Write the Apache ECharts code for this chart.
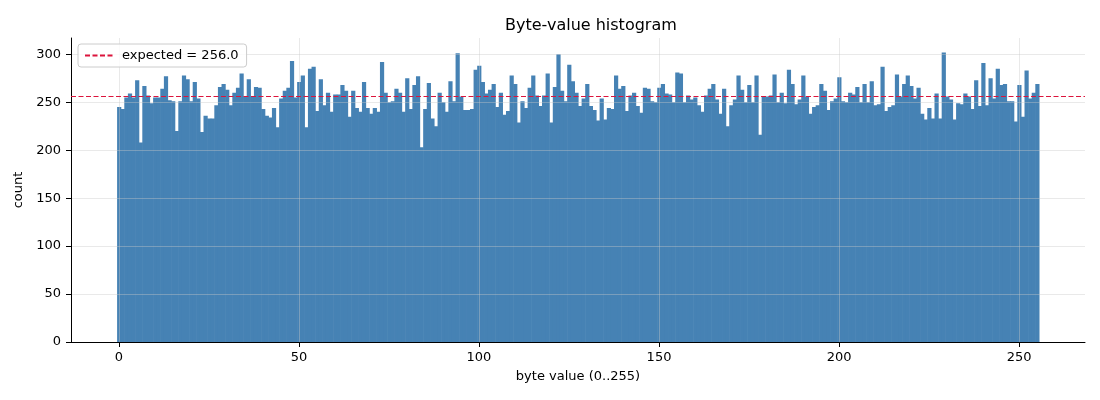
<!DOCTYPE html>
<html>
<head>
<meta charset="utf-8">
<script src="https://cdn.jsdelivr.net/npm/echarts@6/dist/echarts.min.js"></script>
<style>
  html, body { margin: 0; padding: 0; background: #fff; }
  #chart { width: 1100px; height: 400px; }
</style>
</head>
<body>
<div id="chart"></div>
<script>
/* byte-value histogram: counts per byte 0..255 */
var COUNTS = [
  245, 243, 255, 259, 255, 273, 208, 267, 257, 249, 255, 255, 264, 277, 252, 251,
  220, 251, 278, 274, 251, 271, 254, 219, 236, 233, 233, 247, 266, 269, 263, 247,
  260, 265, 280, 256, 274, 256, 266, 265, 243, 236, 234, 244, 224, 254, 262, 265,
  293, 255, 271, 278, 224, 285, 287, 241, 274, 247, 260, 240, 258, 258, 268, 262,
  235, 262, 244, 240, 271, 244, 238, 244, 240, 292, 260, 250, 251, 264, 260, 240,
  275, 243, 268, 277, 203, 243, 270, 233, 225, 260, 250, 240, 272, 251, 301, 256,
  242, 242, 243, 284, 288, 271, 259, 263, 269, 245, 260, 237, 241, 278, 269, 229,
  251, 244, 265, 278, 257, 246, 257, 280, 229, 266, 300, 262, 251, 289, 272, 260,
  246, 254, 269, 246, 242, 231, 254, 232, 244, 243, 278, 264, 267, 241, 257, 260,
  246, 239, 265, 264, 251, 250, 265, 269, 259, 258, 250, 281, 280, 250, 257, 253,
  255, 247, 240, 257, 264, 269, 253, 238, 264, 225, 247, 253, 278, 263, 250, 268,
  250, 278, 216, 256, 256, 257, 279, 250, 260, 249, 284, 269, 248, 253, 278, 256,
  238, 245, 247, 269, 262, 242, 251, 254, 276, 251, 250, 260, 258, 266, 250, 269,
  250, 272, 247, 248, 287, 241, 245, 247, 279, 256, 269, 278, 267, 254, 265, 238,
  232, 244, 233, 259, 233, 302, 256, 253, 232, 249, 248, 259, 256, 243, 273, 246,
  291, 247, 275, 254, 285, 268, 269, 251, 251, 230, 268, 235, 283, 254, 260, 269
];
var EXPECTED = 256.0;
var X_TICKS = [0, 50, 100, 150, 200, 250];
var Y_TICKS = [0, 50, 100, 150, 200, 250, 300];

var FONT = 'DejaVu Sans';
var BAR_COLOR = '#4682b4';
var LINE_COLOR = '#dc143c';
var GRID_COLOR = 'rgba(200,200,200,0.4)';

var binData = [];
for (var i = 0; i < COUNTS.length; i++) {
  binData.push([i, COUNTS[i]]);
}

// one rect per bin, from b-0.5 to b+0.5 (slight overlap so no seams show)
function renderBin(params, api) {
  var b = api.value(0), c = api.value(1);
  var p0 = api.coord([b - 0.5, c]);
  var p1 = api.coord([b + 0.5, 0]);
  return {
    type: 'rect',
    shape: { x: p0[0], y: p0[1], width: p1[0] - p0[0] + 0.6, height: p1[1] - p0[1] },
    style: { fill: BAR_COLOR }
  };
}

var chart = echarts.init(document.getElementById('chart'));
chart.setOption({
  animation: false,
  backgroundColor: '#fff',
  textStyle: { fontFamily: FONT },
  title: {
    text: 'Byte-value histogram',
    left: 500,
    top: 13,
    textStyle: { fontFamily: FONT, fontSize: 16, fontWeight: 'normal', color: '#000' }
  },
  legend: {
    left: 78,
    top: 44,
    padding: [5, 8, 5, 6],
    itemWidth: 29,
    itemHeight: 13,
    backgroundColor: 'rgba(255,255,255,0.8)',
    borderColor: '#cccccc',
    borderWidth: 1,
    borderRadius: 3,
    itemStyle: { opacity: 0 },
    textStyle: { fontFamily: FONT, fontSize: 13, color: '#000', padding: [0, 0, 0, 3] },
    data: ['expected = ' + EXPECTED.toFixed(1)]
  },
  grid: { left: 71, right: 15, top: 38, bottom: 58 },
  xAxis: {
    type: 'value',
    min: -13.3,
    max: 268.3,
    z: 3,
    name: 'byte value (0..255)',
    nameLocation: 'middle',
    nameGap: 28,
    nameTextStyle: { fontFamily: FONT, fontSize: 13, color: '#000' },
    axisLine: { show: true, onZero: false, lineStyle: { color: '#000', width: 1 } },
    axisTick: { show: true, length: 5, lineStyle: { color: '#000' }, customValues: X_TICKS },
    axisLabel: { margin: 9, fontFamily: FONT, fontSize: 13, color: '#000', customValues: X_TICKS },
    splitLine: { show: true, lineStyle: { color: GRID_COLOR, width: 1 } }
  },
  yAxis: {
    type: 'value',
    min: 0,
    max: 317,
    z: 3,
    name: 'count',
    nameLocation: 'middle',
    nameGap: 35,
    nameTextStyle: { fontFamily: FONT, fontSize: 13, color: '#000' },
    axisLine: { show: true, onZero: false, lineStyle: { color: '#000', width: 1 } },
    axisTick: { show: true, length: 5, lineStyle: { color: '#000' }, customValues: Y_TICKS },
    axisLabel: { margin: 10, fontFamily: FONT, fontSize: 13, color: '#000', customValues: Y_TICKS },
    splitLine: { show: true, lineStyle: { color: GRID_COLOR, width: 1 } }
  },
  series: [
    {
      name: 'count',
      type: 'custom',
      renderItem: renderBin,
      encode: { x: 0, y: 1 },
      data: binData,
      z: 2
    },
    {
      name: 'expected = ' + EXPECTED.toFixed(1),
      type: 'line',
      symbol: 'none',
      data: [],
      z: 5,
      lineStyle: { color: LINE_COLOR, width: 1.2, type: [5, 2.5] },
      itemStyle: { color: LINE_COLOR },
      markLine: {
        silent: true,
        symbol: 'none',
        label: { show: false },
        lineStyle: { color: LINE_COLOR, width: 1.2, type: [5, 2.5] },
        data: [{ yAxis: EXPECTED }]
      }
    }
  ]
});
</script>
</body>
</html>
